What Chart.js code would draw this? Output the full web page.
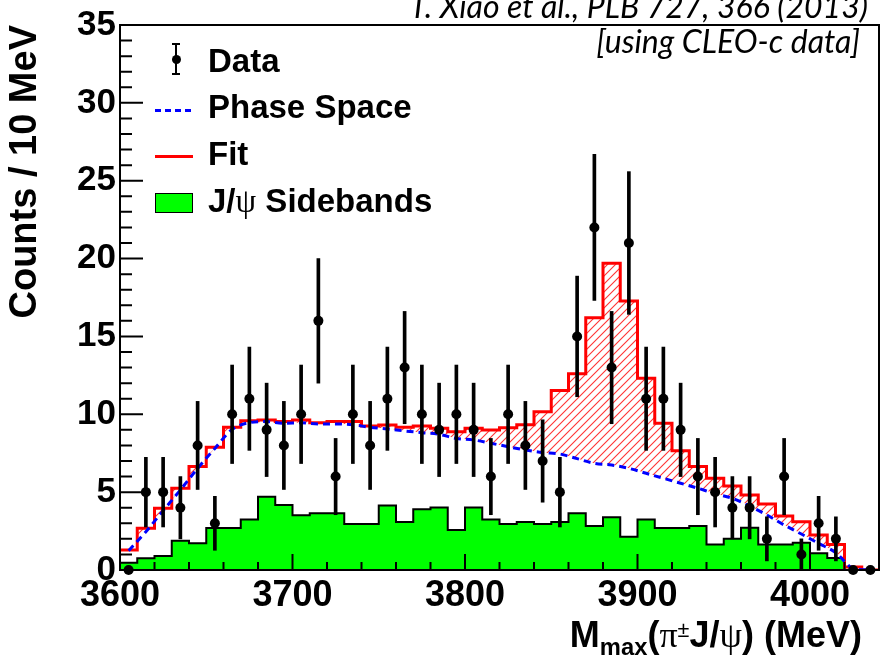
<!DOCTYPE html>
<html lang="en">
<head>
  <meta charset="UTF-8">
  <title>M_max(π±J/ψ) spectrum</title>
  <script src="https://cdn.jsdelivr.net/npm/chart.js"></script>
  <style>
    body { margin: 0; background: #fff; }
    .wrap {
      position: relative;
      width: 888px;
      height: 657px;
      overflow: hidden;
      font-family: 'Liberation Sans', Arial, sans-serif;
    }
    canvas { position: absolute; left: 0; top: 0; }
    .lbl {
      position: absolute;
      font-weight: bold;
      font-size: 33px;
      line-height: 33px;
      white-space: nowrap;
      color: #000;
    }
    .greek { font-family: 'Liberation Serif', 'DejaVu Serif', serif; font-weight: normal; }
    .note {
      position: absolute;
      font-family: Lato, 'Open Sans', sans-serif;
      font-style: italic;
      font-size: 32px;
      line-height: 32px;
      white-space: nowrap;
      color: #000;
    }
    .sym { position: absolute; }
  </style>
</head>
<body>
  <div class="wrap">
    <canvas id="spectrum" width="888" height="657"></canvas>

    <div class="note" style="right:20px; top:-10px;">T. Xiao et al., PLB 727, 366 (2013)</div>
    <div class="note" style="right:28px; top:25px;">[using CLEO-c data]</div>

    <!-- legend -->
    <div class="sym" style="left:175px; top:43px; width:2px; height:32px; background:#000;"></div>
    <div class="sym" style="left:172px; top:43px; width:8px; height:2px; background:#000;"></div>
    <div class="sym" style="left:172px; top:73px; width:8px; height:2px; background:#000;"></div>
    <div class="sym" style="left:172px; top:55px; width:9px; height:9px; border-radius:50%; background:#000;"></div>
    <div class="lbl" style="left:208px; top:44px;">Data</div>

    <div class="sym" style="left:155px; top:109px; width:36px; height:3px; background:repeating-linear-gradient(to right, #0000ff 0 6px, transparent 6px 10px);"></div>
    <div class="lbl" style="left:208px; top:90px;">Phase Space</div>

    <div class="sym" style="left:155px; top:155px; width:38px; height:3px; background:#ff0000;"></div>
    <div class="lbl" style="left:208px; top:137px;">Fit</div>

    <div class="sym" style="left:155px; top:193px; width:38px; height:20px; box-sizing:border-box; background:#00ff00; border:1.5px solid #000;"></div>
    <div class="lbl" style="left:208px; top:184px;">J/<span class="greek">ψ</span> Sidebands</div>

    <!-- x axis title -->
    <div class="lbl" style="right:26px; top:612px; font-size:36px; line-height:36px;">M<sub style="font-size:0.66em; vertical-align:-0.35em;">max</sub>(<span class="greek">π</span><sup style="font-size:0.6em; vertical-align:0.45em; font-weight:normal;">±</sup>J/<span class="greek">ψ</span>) (MeV)</div>
  </div>

  <script>
    // 10 MeV bins: lower edges and centres
    const binLow = [3600, 3610, 3620, 3630, 3640, 3650, 3660, 3670, 3680, 3690,
                    3700, 3710, 3720, 3730, 3740, 3750, 3760, 3770, 3780, 3790,
                    3800, 3810, 3820, 3830, 3840, 3850, 3860, 3870, 3880, 3890,
                    3900, 3910, 3920, 3930, 3940, 3950, 3960, 3970, 3980, 3990,
                    4000, 4010, 4020, 4030];
    const binCenter = [3605, 3615, 3625, 3635, 3645, 3655, 3665, 3675, 3685, 3695,
                       3705, 3715, 3725, 3735, 3745, 3755, 3765, 3775, 3785, 3795,
                       3805, 3815, 3825, 3835, 3845, 3855, 3865, 3875, 3885, 3895,
                       3905, 3915, 3925, 3935, 3945, 3955, 3965, 3975, 3985, 3995,
                       4005, 4015, 4025, 4035];

    // counts per bin
    const dataCounts = [0, 5, 5, 4, 8, 3, 10, 11, 9, 8,
                        10, 16, 6, 10, 8, 11, 13, 10, 9, 10,
                        9, 6, 10, 8, 7, 5, 15, 22, 13, 21,
                        11, 11, 9, 6, 5, 4, 4, 2, 6, 1,
                        3, 2, 0, 0];
    const fitCounts = [1.28, 2.68, 3.96, 5.25, 6.64, 7.88, 9.16, 9.59, 9.63, 9.53,
                       9.63, 9.46, 9.53, 9.53, 9.25, 9.31, 9.16, 9.25, 9.10, 8.88,
                       9.10, 8.99, 9.14, 9.33, 10.17, 11.52, 12.61, 16.2, 19.7, 17.28,
                       12.31, 9.42, 7.66, 6.64, 5.9, 5.4, 4.82, 4.24, 3.47, 3.1,
                       2.25, 1.63, 0.2, 0];
    const phaseSpace = [1.24, 2.46, 3.81, 5.14, 6.53, 7.81, 9.03, 9.46, 9.53, 9.42,
                        9.45, 9.37, 9.38, 9.33, 9.16, 9.06, 8.93, 8.82, 8.71, 8.45,
                        8.35, 8.14, 7.92, 7.71, 7.55, 7.45, 7.15, 6.85, 6.74, 6.53,
                        6.21, 5.89, 5.57, 5.25, 4.9, 4.6, 4.11, 3.53, 2.89, 2.31,
                        1.71, 1.11, 0.1, 0];
    const sidebands = [0.47, 0.75, 0.9, 1.88, 1.71, 2.7, 2.7, 3.25, 4.71, 4.17,
                       3.51, 3.64, 3.64, 2.95, 2.95, 4.15, 3.08, 3.9, 4.02, 2.57,
                       4.02, 3.25, 2.95, 3.08, 2.95, 3.08, 3.64, 2.83, 3.38, 2.14,
                       3.25, 2.7, 2.7, 2.83, 1.63, 2.0, 2.72, 1.63, 1.63, 1.75,
                       1.07, 0.77, 0, 0];

    const xTickValues = [3600, 3700, 3800, 3900, 4000];
    const xMin = 3600, xMax = 4040;
    const yMin = 0, yMax = 35;

    Chart.defaults.font.family = "'Liberation Sans', Arial, sans-serif";
    Chart.defaults.color = '#000';

    // histogram outline as step points at bin edges
    function histPoints(vals) {
      const pts = binLow.map((x, i) => ({ x: x, y: vals[i] }));
      pts.push({ x: xMax, y: vals[vals.length - 1] });
      return pts;
    }

    // red hatch for the signal part of the fit
    const hatch = (() => {
      const c = document.createElement('canvas');
      c.width = 8; c.height = 8;
      const g = c.getContext('2d');
      g.strokeStyle = 'rgba(255,0,0,0.8)';
      g.lineWidth = 1.1;
      g.beginPath();
      g.moveTo(0, 8); g.lineTo(8, 0);
      g.moveTo(-2, 2); g.lineTo(2, -2);
      g.moveTo(6, 10); g.lineTo(10, 6);
      g.stroke();
      return c.getContext('2d').createPattern(c, 'repeat');
    })();

    // ROOT-style frame with ticks drawn inside
    const frameTicks = {
      id: 'frameTicks',
      afterDatasetsDraw(chart) {
        const { ctx, chartArea: a, scales: { x, y } } = chart;
        ctx.save();
        ctx.strokeStyle = '#000';
        ctx.lineWidth = 2;
        ctx.beginPath();
        for (let v = yMin; v <= yMax; v += 1) {
          const py = y.getPixelForValue(v);
          const len = v % 5 === 0 ? 23 : 12;
          ctx.moveTo(a.left, py);
          ctx.lineTo(a.left + len, py);
        }
        for (let v = xMin; v <= xMax; v += 20) {
          const px = x.getPixelForValue(v);
          const len = v % 100 === 0 ? 16 : 8;
          ctx.moveTo(px, a.bottom);
          ctx.lineTo(px, a.bottom - len);
        }
        ctx.stroke();
        ctx.strokeRect(a.left, a.top, a.right - a.left, a.bottom - a.top);
        ctx.restore();
      }
    };

    const errorBars = dataCounts
      .map((n, i) => ({ x: binCenter[i], y: [n - Math.sqrt(n), n + Math.sqrt(n)] }))
      .filter((d, i) => dataCounts[i] > 0);

    new Chart(document.getElementById('spectrum'), {
      type: 'line',
      data: {
        datasets: [
          {
            label: 'Data',
            data: binCenter.map((x, i) => ({ x: x, y: dataCounts[i] })),
            showLine: false,
            pointRadius: 5,
            pointBackgroundColor: '#000',
            pointBorderColor: '#000',
            pointBorderWidth: 0,
            clip: false
          },
          {
            type: 'bar',
            label: 'errors',
            data: errorBars,
            backgroundColor: '#000',
            barThickness: 3,
            clip: false
          },
          {
            label: 'Phase Space',
            data: binCenter.map((x, i) => ({ x: x, y: phaseSpace[i] })),
            borderColor: '#0000ff',
            borderWidth: 3,
            borderDash: [7, 5],
            pointRadius: 0,
            cubicInterpolationMode: 'monotone',
            fill: false
          },
          {
            label: 'Fit',
            data: histPoints(fitCounts),
            borderColor: '#ff0000',
            borderWidth: 3,
            stepped: 'before',
            pointRadius: 0,
            fill: { target: 2, above: hatch, below: 'rgba(0,0,0,0)' }
          },
          {
            label: 'J/ψ Sidebands',
            data: histPoints(sidebands),
            borderColor: '#000',
            borderWidth: 2,
            backgroundColor: '#00ff00',
            stepped: 'before',
            pointRadius: 0,
            fill: 'origin'
          }
        ]
      },
      options: {
        responsive: false,
        animation: false,
        layout: { padding: { top: 25, right: 9, left: 0, bottom: 0 } },
        plugins: {
          legend: { display: false },
          tooltip: { enabled: false }
        },
        scales: {
          x: {
            type: 'linear',
            min: xMin,
            max: xMax,
            offset: false,
            grid: { display: false },
            border: { display: false },
            afterBuildTicks: s => { s.ticks = xTickValues.map(v => ({ value: v })); },
            afterFit: s => { s.height = 87; },
            ticks: {
              font: { size: 36, weight: 'bold' },
              padding: -4,
              maxRotation: 0,
              autoSkip: false,
              callback: v => String(v)
            }
          },
          y: {
            min: yMin,
            max: yMax,
            grid: { display: false },
            border: { display: false },
            afterFit: s => { s.width = 120; },
            ticks: {
              stepSize: 5,
              font: { size: 35, weight: 'bold' },
              padding: -4
            },
            title: {
              display: true,
              text: 'Counts / 10 MeV',
              align: 'end',
              font: { size: 38, weight: 'bold' },
              padding: { top: 3, bottom: 0 }
            }
          }
        }
      },
      plugins: [frameTicks]
    });
  </script>
</body>
</html>
